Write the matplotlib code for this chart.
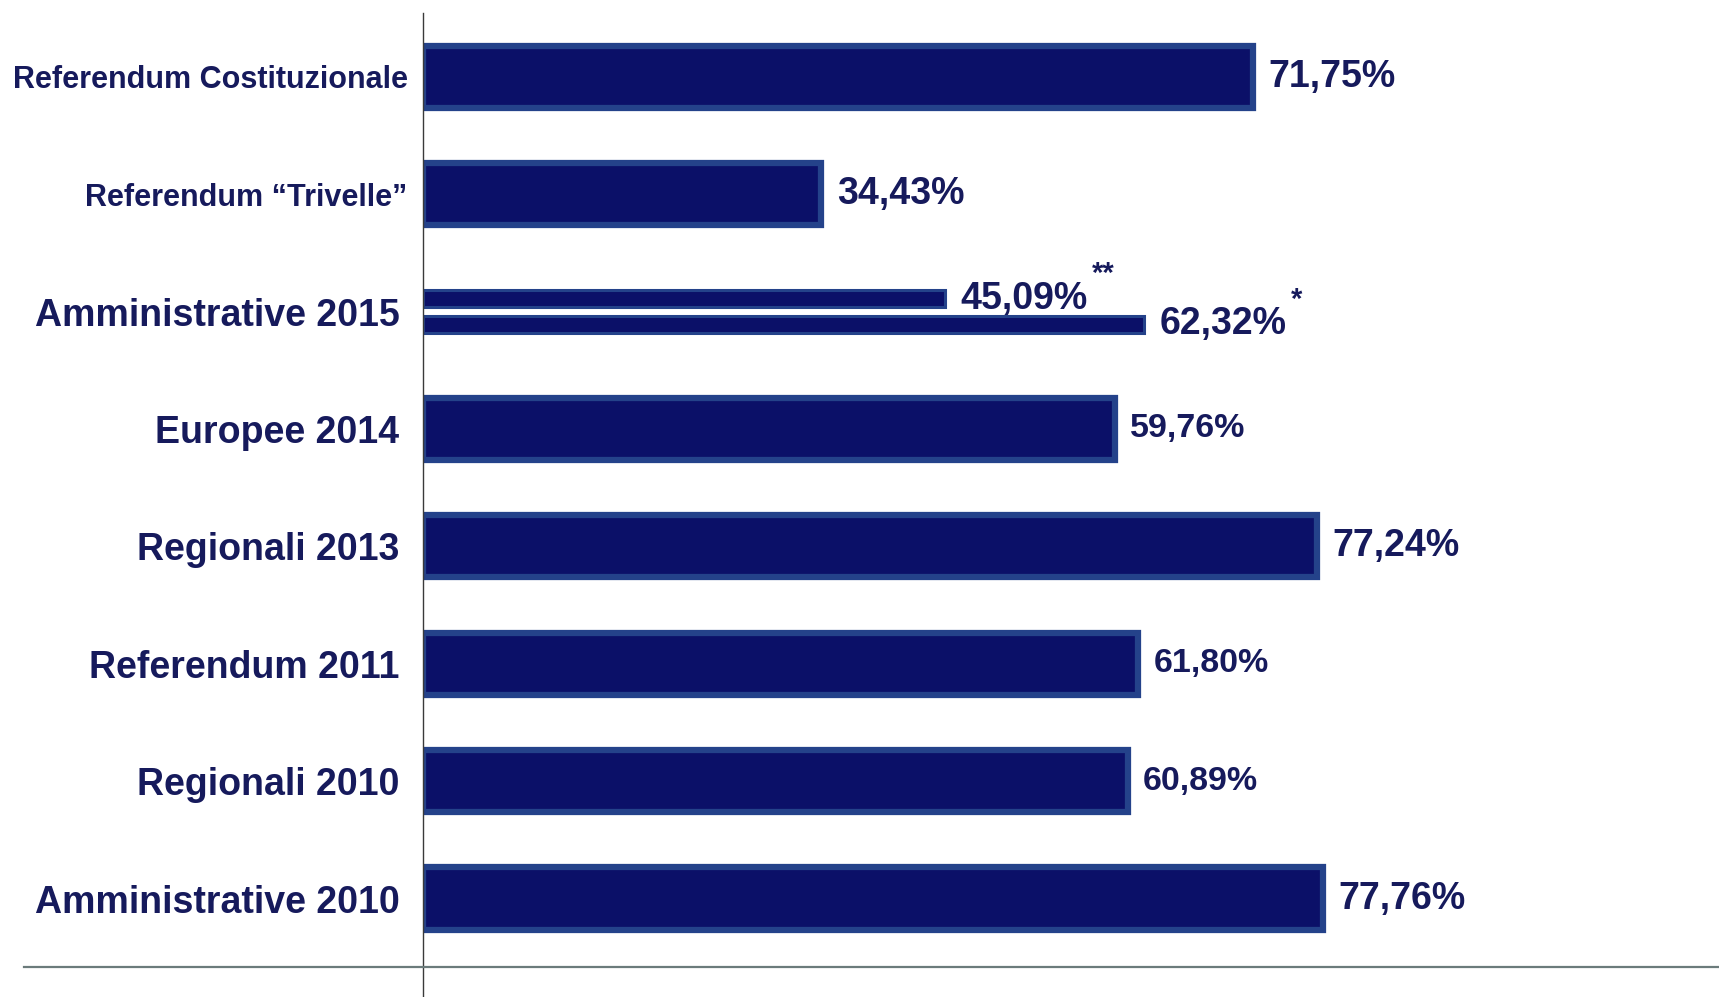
import numpy as np
import matplotlib.pyplot as plt
from matplotlib.lines import Line2D

plt.rcParams['font.family'] = ['Liberation Sans', 'DejaVu Sans']

labels = ['Referendum Costituzionale', 'Referendum “Trivelle”', 'Amministrative 2015',
          'Europee 2014', 'Regionali 2013', 'Referendum 2011', 'Regionali 2010',
          'Amministrative 2010']
turnout = [71.75, 34.43, None, 59.76, 77.24, 61.80, 60.89, 77.76]
amm2015 = [45.09, 62.32]
amm2015_notes = ['**', '*']

# font size of each value label, as in the picture
value_fs = [27, 27, 27, 24.5, 27, 24.5, 24.5, 27]

navy = '#0b1068'
edge = '#24428a'
txt = '#161a5c'


def pct(v):
    return f'{v:.2f}'.replace('.', ',') + '%'


fig = plt.figure(figsize=(17.19, 9.97), dpi=100)
ax = fig.add_axes([423 / 1719, 0, 1 - 423 / 1719, 1 - 13 / 997])

y = np.arange(len(labels))

# normal bars
for i, v in enumerate(turnout):
    if v is None:
        continue
    ax.barh(y[i], v, height=0.53, color=navy, edgecolor=edge, linewidth=4.5, zorder=2)
    ax.annotate(pct(v), xy=(v, y[i]), xytext=(11, 0), textcoords='offset points',
                ha='left', va='center', fontsize=value_fs[i], fontweight='bold', color=txt)

# Amministrative 2015: two thin bars
offs = [-0.11, 0.11]
for v, o, note in zip(amm2015, offs, amm2015_notes):
    ax.barh(y[2] + o, v, height=0.145, color=navy, edgecolor=edge, linewidth=2.2, zorder=2)
    t = ax.annotate(pct(v), xy=(v, y[2] + o), xytext=(11, 0), textcoords='offset points',
                    ha='left', va='center', fontsize=value_fs[2], fontweight='bold', color=txt)
    ax.annotate(note, xy=(1, 0.8), xycoords=t, xytext=(3, 0), textcoords='offset points',
                ha='left', va='bottom', fontsize=21, fontweight='bold', color=txt)

ax.set_xlim(0, 112)
ax.set_ylim(7.839, -0.543)

ax.set_yticks(y)
ax.set_yticklabels(labels, fontweight='bold', color=txt, fontsize=27)
ax.tick_params(axis='y', length=0, pad=17)
ax.tick_params(axis='x', bottom=False, labelbottom=False)
ticks = ax.yaxis.get_major_ticks()
for k in (0, 1):
    ticks[k].label1.set_fontsize(22)
    ticks[k].set_pad(11)

for s in ('top', 'right', 'bottom'):
    ax.spines[s].set_visible(False)
ax.spines['left'].set_color('#3a3a3a')
ax.spines['left'].set_linewidth(1.0)

# baseline running across the whole width
fig.add_artist(Line2D([24 / 1719, 1], [1 - 967 / 997] * 2, color='#6b7b7b', lw=1.6))

fig.savefig('out.png', dpi=100)
